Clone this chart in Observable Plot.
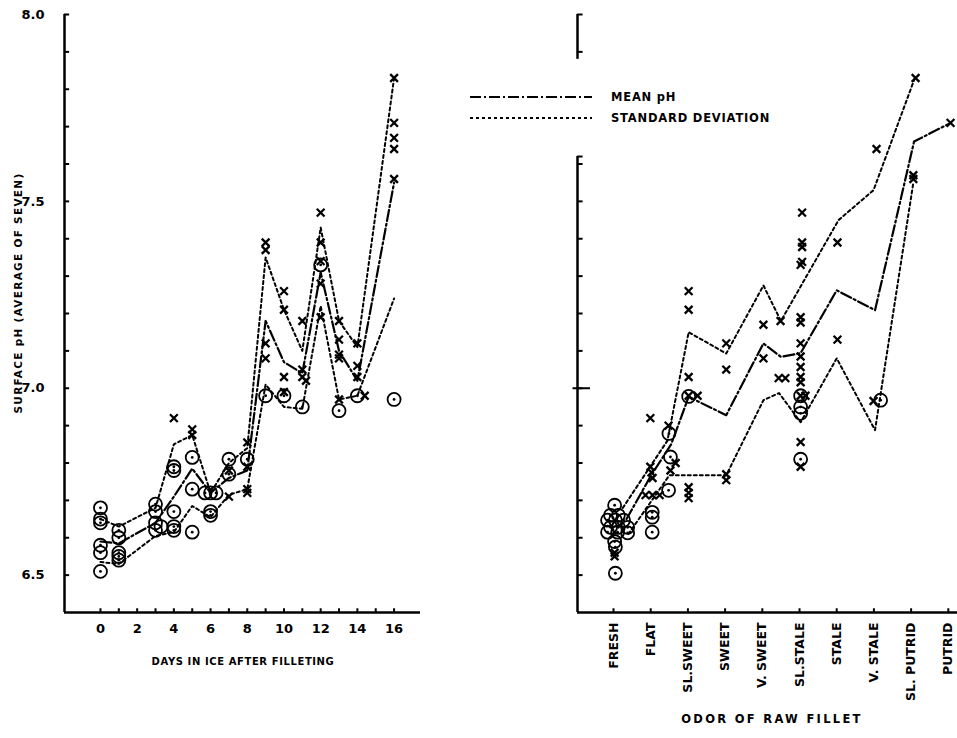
<!DOCTYPE html>
<html>
<head>
<meta charset="utf-8">
<script src="https://cdn.jsdelivr.net/npm/d3@7"></script>
<script src="https://cdn.jsdelivr.net/npm/@observablehq/plot@0.6"></script>
<style>
  html, body { margin: 0; padding: 0; background: #fff; }
  #wrap { position: relative; width: 957px; height: 738px; overflow: hidden; background: #fff;
          font-family: "DejaVu Sans", sans-serif; font-weight: bold; color: #000; }
  #left, #right { position: absolute; top: 0; }
  #left { left: 0; }
  #right { left: 450px; }
  .ttl { position: absolute; white-space: nowrap; font-weight: bold; }
  #legend { position: absolute; left: 0; top: 0; }
</style>
</head>
<body>
<div id="wrap">
  <div id="left"></div>
  <div id="right"></div>
  <svg id="legend" width="957" height="738"></svg>
  <div class="ttl" id="ytitle" style="left:18px; top:293px; font-size:10.5px; letter-spacing:1.3px; transform: translate(-50%,-50%) rotate(-90deg);">SURFACE pH (AVERAGE OF SEVEN)</div>
  <div class="ttl" style="left:243px; top:661px; font-size:10px; letter-spacing:0.6px; transform: translate(-50%,-50%);">DAYS IN ICE AFTER FILLETING</div>
  <div class="ttl" style="left:772px; top:719px; font-size:11.5px; letter-spacing:2.3px; transform: translate(-50%,-50%);">ODOR OF RAW FILLET</div>
</div>
<script>
// ---------------- LEFT PANEL: pH vs days in ice ----------------
const leftDays  = [0, 1, 3, 4, 5, 6, 7, 8, 9, 10, 11, 12, 13, 14, 16];
const leftMean  = [6.59, 6.585, 6.64, 6.71, 6.785, 6.72, 6.76, 6.78, 7.18, 7.07, 7.04, 7.31, 7.10, 7.02, 7.55];
const leftUpper = [6.65, 6.63, 6.68, 6.85, 6.875, 6.72, 6.80, 6.84, 7.35, 7.21, 7.10, 7.43, 7.18, 7.11, 7.83];
const leftLower = [6.535, 6.53, 6.605, 6.615, 6.685, 6.655, 6.715, 6.73, 7.01, 6.95, 6.945, 7.22, 6.97, 6.98, 7.24];

const leftCircleDay = [0,0,0,0,0,0, 1,1,1,1,1, 3,3,3,3,3.3, 4,4,4,4,4, 5,5,5, 5.7,6,6.3,6,6, 7,7, 8, 9, 10, 11, 12, 13, 14, 16];
const leftCirclePH  = [6.68,6.65,6.64,6.58,6.56,6.51, 6.62,6.60,6.56,6.55,6.54, 6.69,6.67,6.64,6.62,6.63, 6.79,6.78,6.67,6.63,6.62, 6.815,6.73,6.615, 6.72,6.72,6.72,6.67,6.66, 6.81,6.77, 6.81, 6.98, 6.98, 6.95, 7.33, 6.94, 6.98, 6.97];

const leftCrossDay = [4, 5,5, 7,7, 8,8,8,8, 9,9,9,9, 10,10,10,10, 11,11,11,11.2, 12,12,12,12,12, 13,13,13,13,13, 14,14,14,14.4, 16,16,16,16,16];
const leftCrossPH  = [6.92, 6.89,6.875, 6.78,6.71, 6.855,6.79,6.73,6.72, 7.39,7.37,7.12,7.08, 7.26,7.21,7.03,6.99, 7.18,7.05,7.03,7.02, 7.47,7.39,7.34,7.28,7.19, 7.18,7.13,7.09,7.08,6.97, 7.12,7.06,7.03,6.98, 7.83,7.71,7.67,7.64,7.56];

const leftXLabels = [0, 2, 4, 6, 8, 10, 12, 14, 16];
const leftXTicks  = [0,1,2,3,4,5,6,7,8,9,10,11,12,13,14,15,16];
const yLabels = [6.5, 7.0, 7.5, 8.0];
const yTicks  = [6.5,6.6,6.7,6.8,6.9,7.0,7.1,7.2,7.3,7.4,7.5,7.6,7.7,7.8,7.9,8.0];

// ---------------- RIGHT PANEL: pH vs odor score ----------------
const odorLabels = ["FRESH","FLAT","SL.SWEET","SWEET","V. SWEET","SL.STALE","STALE","V. STALE","SL. PUTRID","PUTRID"];
const odorScores = [1,2,3,4,5,6,7,8,9,10];

const rightMeanX  = [1.35, 2.0, 2.55, 3.02, 4.03, 5.03, 5.5, 6.03, 7.0, 8.03, 9.08, 10.06];
const rightMeanPH = [6.65, 6.765, 6.85, 6.977, 6.928, 7.12, 7.084, 7.094, 7.262, 7.209, 7.66, 7.71];
const rightUpperX  = [1.25, 2.45, 3.02, 4.03, 5.03, 5.5, 7.05, 7.99, 9.1];
const rightUpperPH = [6.68, 6.86, 7.15, 7.093, 7.275, 7.18, 7.45, 7.53, 7.83];
const rightLowerX  = [1.4, 2.5, 4.03, 5.03, 5.45, 6.03, 7.0, 8.03, 9.06];
const rightLowerPH = [6.61, 6.767, 6.767, 6.968, 6.987, 6.909, 7.08, 6.888, 7.55];

const rightCircleX  = [1.03,0.92,1.13,0.84,1.05,1.27,0.92,1.13,1.38,0.84,1.11,1.38,1.03,1.05,1.05, 2.04,2.04,2.04, 2.49,2.53,2.48,3.02, 6.03,6.03,6.03,6.03, 8.18];
const rightCirclePH = [6.687,6.66,6.66,6.647,6.647,6.647,6.628,6.628,6.628,6.615,6.615,6.613,6.59,6.575,6.505, 6.668,6.655,6.615, 6.879,6.816,6.727,6.978, 6.98,6.95,6.933,6.81, 6.968];

const rightCrossX  = [1.03,1.03, 1.99,1.99,2.02,2.05,1.86,2.05,2.24, 2.48,2.67,2.53,3.02,3.02,3.02,3.02,3.02,3.02,3.02,3.26, 4.03,4.03,4.03,4.03, 5.03,5.03, 5.49,5.44,5.62, 6.07,6.07,6.07,6.07,6.03,6.03,6.03,6.03,6.03,6.03,6.03,6.03,6.03,6.16,6.03,6.03, 7.02,7.02, 8.07,7.99, 9.12,9.06,9.06, 10.06];
const rightCrossPH = [6.56,6.55, 6.92,6.79,6.775,6.76,6.714,6.714,6.714, 6.90,6.80,6.78,6.735,6.72,6.706,7.26,7.21,7.03,6.98,6.98, 7.12,7.05,6.77,6.754, 7.17,7.08, 7.18,7.027,7.027, 7.47,7.39,7.378,7.338,7.19,7.176,7.12,7.085,7.057,7.03,7.016,6.98,6.856,6.98,6.79,7.33, 7.39,7.13, 7.64,6.966, 7.83,7.57,7.56, 7.71];

// right axis segments (broken around the legend) and its ticks
const rightAxisSegments = [[6.4, 7.62], [7.88, 8.0]];
const rightYTicks = [6.5,6.6,6.7,6.8,6.9,7.0,7.1,7.2,7.3,7.4,7.5,7.6,7.9,8.0];

// ---------------- helpers ----------------
const zip = (xs, ys) => xs.map((x, i) => ({x, y: ys[i]}));
const FONT = "DejaVu Sans, sans-serif";
const yDomain = [6.4, 8.0];

function seriesMarks(meanD, upperD, lowerD, circles, crosses) {
  return [
    Plot.line(upperD, {x: "x", y: "y", stroke: "black", strokeWidth: 2, strokeDasharray: "3,3"}),
    Plot.line(lowerD, {x: "x", y: "y", stroke: "black", strokeWidth: 2, strokeDasharray: "3,3"}),
    Plot.line(meanD, {x: "x", y: "y", stroke: "black", strokeWidth: 2.2, strokeDasharray: "11,3,2,3"}),
    Plot.dot(circles, {x: "x", y: "y", r: 6.5, stroke: "black", strokeWidth: 1.8, fill: "none"}),
    Plot.dot(circles, {x: "x", y: "y", r: 1.4, fill: "black", stroke: "none"}),
    Plot.dot(crosses, {x: "x", y: "y", symbol: "times", r: 3.6, stroke: "black", strokeWidth: 2.3})
  ];
}

// ---------------- left plot ----------------
const leftXDomain = [-1.96, 17.44];
const leftPlot = Plot.plot({
  width: 450, height: 738,
  marginLeft: 64, marginRight: 30, marginTop: 14, marginBottom: 126,
  style: {fontFamily: FONT, background: "transparent", overflow: "visible"},
  x: {domain: leftXDomain},
  y: {domain: yDomain},
  marks: [
    // y axis line and inward ticks
    Plot.ruleX([leftXDomain[0]], {y1: 6.4, y2: 8.0, stroke: "black", strokeWidth: 2.5}),
    Plot.ruleY(yTicks, {y: d => d, x1: leftXDomain[0], x2: leftXDomain[0] + 0.28, stroke: "black", strokeWidth: 2}),
    Plot.axisY({ticks: yLabels, tickSize: 0, tickPadding: 20, tickFormat: d => d.toFixed(1), fontSize: 13, fontWeight: "bold", label: null}),
    // x axis line and inward ticks
    Plot.ruleY([6.4], {stroke: "black", strokeWidth: 2.5}),
    Plot.ruleX(leftXTicks, {x: d => d, y1: 6.4, y2: 6.41, stroke: "black", strokeWidth: 2}),
    Plot.axisX({ticks: leftXLabels, tickSize: 0, tickPadding: 11, fontSize: 13, fontWeight: "bold", label: null}),
    ...seriesMarks(zip(leftDays, leftMean), zip(leftDays, leftUpper), zip(leftDays, leftLower),
                   zip(leftCircleDay, leftCirclePH), zip(leftCrossDay, leftCrossPH))
  ]
});
document.getElementById("left").appendChild(leftPlot);

// ---------------- right plot ----------------
const rightXDomain = [0.032, 10.247];
const rightPlot = Plot.plot({
  width: 507, height: 738,
  marginLeft: 127, marginRight: 0, marginTop: 14, marginBottom: 126,
  style: {fontFamily: FONT, background: "transparent", overflow: "visible"},
  x: {domain: rightXDomain, axis: null},
  y: {domain: yDomain, axis: null},
  marks: [
    Plot.ruleX(rightAxisSegments, {x: () => rightXDomain[0], y1: d => d[0], y2: d => d[1], stroke: "black", strokeWidth: 2.5}),
    Plot.ruleY(rightYTicks, {y: d => d, x1: rightXDomain[0], x2: rightXDomain[0] + 0.15, stroke: "black", strokeWidth: 2}),
    Plot.ruleY([7.0], {x1: rightXDomain[0] - 0.12, x2: rightXDomain[0] + 0.35, stroke: "black", strokeWidth: 2}),
    Plot.ruleY([7.62], {x1: rightXDomain[0], x2: rightXDomain[0] + 0.15, stroke: "black", strokeWidth: 2}),
    Plot.ruleY([6.4], {stroke: "black", strokeWidth: 2.5}),
    Plot.ruleX(odorScores, {x: d => d, y1: 6.4, y2: 6.41, stroke: "black", strokeWidth: 2}),
    Plot.text(odorLabels, {x: (d, i) => odorScores[i], y: 6.4, text: d => d, rotate: -90, textAnchor: "end",
                           dy: 10, fontSize: 12.5, fontWeight: "bold", fill: "black"}),
    ...seriesMarks(zip(rightMeanX, rightMeanPH), zip(rightUpperX, rightUpperPH), zip(rightLowerX, rightLowerPH),
                   zip(rightCircleX, rightCirclePH), zip(rightCrossX, rightCrossPH))
  ]
});
document.getElementById("right").appendChild(rightPlot);

// ---------------- legend ----------------
const legendItems = [
  {label: "MEAN pH", dash: "11,3,2,3", width: 2.2},
  {label: "STANDARD DEVIATION", dash: "3,3", width: 2}
];
const lg = d3.select("#legend");
legendItems.forEach((it, i) => {
  const y = 97 + i * 21;
  lg.append("line").attr("x1", 470).attr("x2", 592).attr("y1", y).attr("y2", y)
    .attr("stroke", "black").attr("stroke-width", it.width).attr("stroke-dasharray", it.dash);
  lg.append("text").attr("x", 611).attr("y", y).attr("dy", "0.36em")
    .attr("font-family", FONT).attr("font-weight", "bold").attr("font-size", 11.5)
    .attr("letter-spacing", 0.8).text(it.label);
});
</script>
</body>
</html>
